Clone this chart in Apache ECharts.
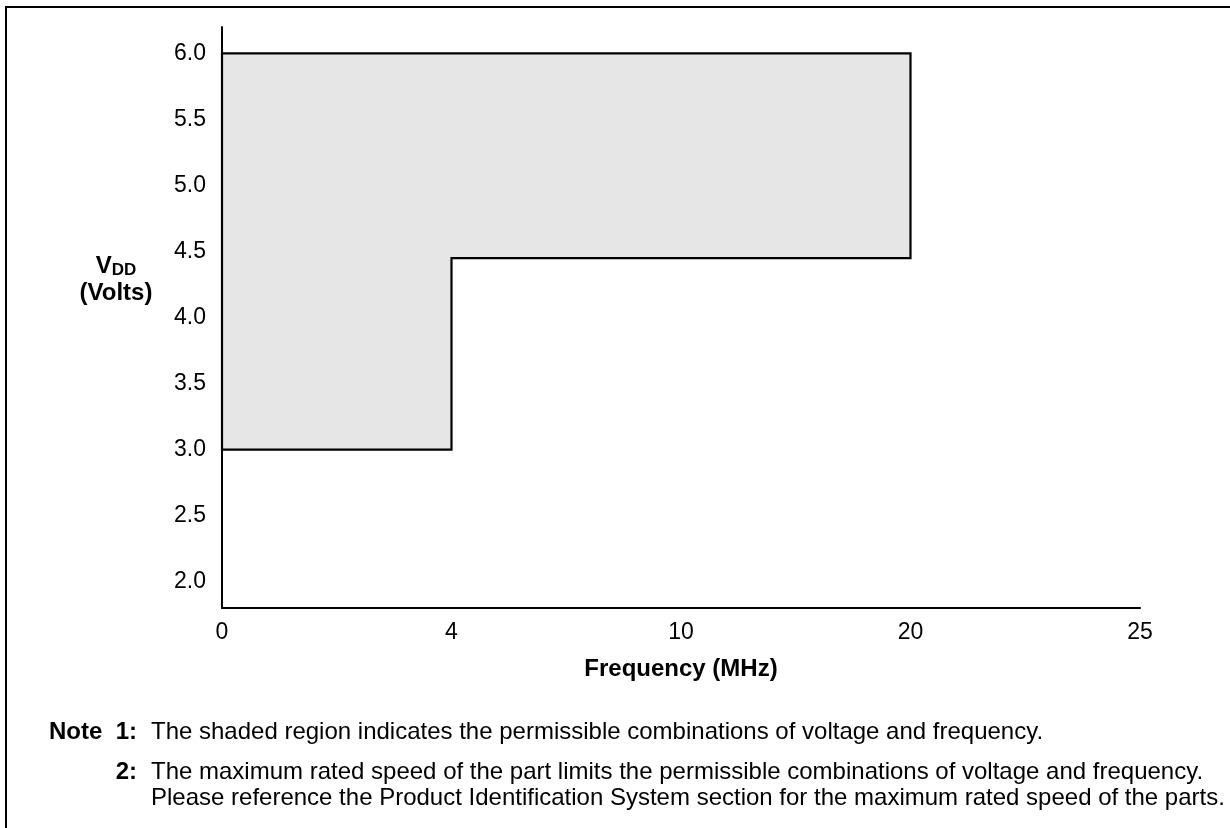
<!DOCTYPE html>
<html>
<head>
<meta charset="utf-8">
<script src="https://cdn.jsdelivr.net/npm/echarts@6/dist/echarts.min.js"></script>
<style>
html,body{margin:0;padding:0;background:#fff;}
#chart{width:1230px;height:828px;}
</style>
</head>
<body>
<div id="chart"></div>
<script>
// Tick labels
const xTicks = [0, 4, 10, 20, 25];                       // Frequency (MHz)
const yTicks = [2.0, 2.5, 3.0, 3.5, 4.0, 4.5, 5.0, 5.5, 6.0]; // VDD (Volts)
// Shaded operating region outline (frequency, voltage)
const regionFreq = [0, 20, 20, 4, 4, 0];
const regionVolt = [6.0, 6.0, 4.45, 4.45, 3.0, 3.0];

const FONT = '"Liberation Sans", Arial, sans-serif';

const chart = echarts.init(document.getElementById('chart'), null, {renderer: 'canvas'});

const option = {
  backgroundColor: '#ffffff',
  animation: false,
  grid: {left: 222, right: 90, top: 27, bottom: 220, containLabel: false, outerBoundsMode: 'none'},
  xAxis: {
    type: 'category',
    data: xTicks.map(String),
    boundaryGap: false,
    axisLine: {show: true, lineStyle: {color: '#000', width: 2}},
    axisTick: {show: false},
    splitLine: {show: false},
    axisLabel: {interval: 0, margin: 13, color: '#000', fontSize: 23, fontFamily: FONT},
    name: 'Frequency (MHz)',
    nameLocation: 'middle',
    nameGap: 49,
    nameTextStyle: {color: '#000', fontSize: 24, fontWeight: 'bold', fontFamily: FONT}
  },
  yAxis: {
    type: 'value',
    min: 1.8,
    max: 6.2,
    axisLine: {show: true, lineStyle: {color: '#000', width: 2}},
    axisTick: {show: false},
    splitLine: {show: false},
    axisLabel: {
      customValues: yTicks,
      margin: 16,
      color: '#000', fontSize: 23, fontFamily: FONT,
      formatter: v => Number(v).toFixed(1)
    }
  },
  series: [{
    type: 'custom',
    coordinateSystem: 'cartesian2d',
    silent: true,
    clip: false,
    z: 3,
    encode: {x: 0, y: 1},
    data: regionFreq.map((f, i) => [xTicks.indexOf(f), regionVolt[i]]),
    renderItem: function (params, api) {
      if (params.dataIndex !== 0) return null;
      const pts = regionFreq.map((f, i) => api.coord([xTicks.indexOf(f), regionVolt[i]]));
      return {
        type: 'polygon',
        shape: {points: pts},
        style: {fill: '#e6e6e6', stroke: '#000', lineWidth: 2.2}
      };
    }
  }],
  graphic: [
    // frame
    {type: 'line', silent: true, shape: {x1: 5, y1: 7, x2: 1230, y2: 7}, style: {stroke: '#000', lineWidth: 2}},
    {type: 'line', silent: true, shape: {x1: 6, y1: 6, x2: 6, y2: 828}, style: {stroke: '#000', lineWidth: 2}},
    // y-axis title
    {type: 'text', silent: true, x: 116, y: 266, style: {
      text: '{a|V}{b|DD}', align: 'center', verticalAlign: 'middle', fill: '#000',
      rich: {
        a: {fontSize: 24, fontWeight: 'bold', fontFamily: FONT, fill: '#000', verticalAlign: 'bottom', lineHeight: 25},
        b: {fontSize: 17, fontWeight: 'bold', fontFamily: FONT, fill: '#000', verticalAlign: 'bottom', lineHeight: 20}
      }
    }},
    {type: 'text', silent: true, x: 116, y: 293, style: {
      text: '(Volts)', align: 'center', verticalAlign: 'middle', fill: '#000',
      font: 'bold 24px ' + FONT
    }},
    // notes
    {type: 'text', silent: true, x: 49, y: 732, style: {text: 'Note', align: 'left', verticalAlign: 'middle', fill: '#000', font: 'bold 24px ' + FONT}},
    {type: 'text', silent: true, x: 137, y: 732, style: {text: '1:', align: 'right', verticalAlign: 'middle', fill: '#000', font: 'bold 24px ' + FONT}},
    {type: 'text', silent: true, x: 151, y: 732, style: {text: 'The shaded region indicates the permissible combinations of voltage and frequency.', align: 'left', verticalAlign: 'middle', fill: '#000', font: '24px ' + FONT}},
    {type: 'text', silent: true, x: 137, y: 772, style: {text: '2:', align: 'right', verticalAlign: 'middle', fill: '#000', font: 'bold 24px ' + FONT}},
    {type: 'text', silent: true, x: 151, y: 772, style: {text: 'The maximum rated speed of the part limits the permissible combinations of voltage and frequency.', align: 'left', verticalAlign: 'middle', fill: '#000', font: '24px ' + FONT}},
    {type: 'text', silent: true, x: 151, y: 798, style: {text: 'Please reference the Product Identification System section for the maximum rated speed of the parts.', align: 'left', verticalAlign: 'middle', fill: '#000', font: '24px ' + FONT}}
  ]
};
chart.setOption(option);
</script>
</body>
</html>
